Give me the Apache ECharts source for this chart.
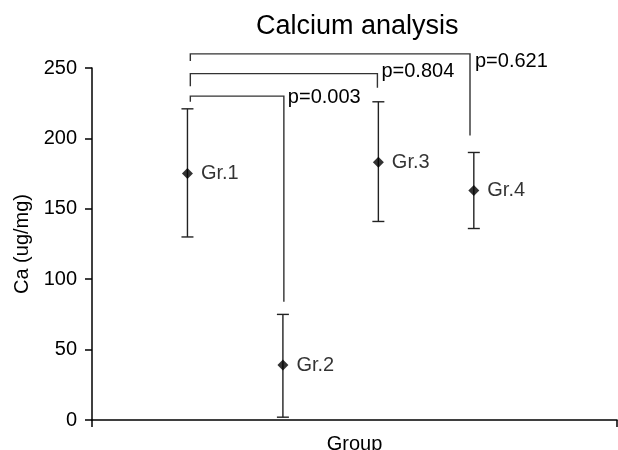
<!DOCTYPE html>
<html>
<head>
<meta charset="utf-8">
<title>Calcium analysis</title>
<script src="https://cdn.jsdelivr.net/npm/echarts@6/dist/echarts.min.js"></script>
<style>
  html, body { margin: 0; padding: 0; background: #fff; }
  #chart-container { width: 618px; height: 450px; }
</style>
</head>
<body>
<div id="chart-container"></div>
<script>
// data
var groups = ['Gr.1', 'Gr.2', 'Gr.3', 'Gr.4'];
var groupPos = [1, 2, 3, 4];
var means = [175, 39, 183, 163];
var upper = [221, 75, 226, 190];
var lower = [130, 2, 141, 136];
var yTicks = [0, 50, 100, 150, 200, 250];

// comparison brackets: x from/to, y of top bar, y where each leg stops
var bracketFrom = [1.03, 1.03, 1.03];
var bracketTo = [2.01, 2.99, 3.96];
var bracketTop = [230, 246, 260];
var bracketLeftEnd = [226, 237, 255];
var bracketRightEnd = [84, 236, 202];
var pLabels = ['p=0.003', 'p=0.804', 'p=0.621'];

var FONT = '"Liberation Sans", Arial, Helvetica, sans-serif';
var INK = '#000';
var labelShift = [[4, 1], [4, -2], [5, 8]];

var dom = document.getElementById('chart-container');
var myChart = echarts.init(dom, null, { renderer: 'canvas' });

var errData = groupPos.map(function (p, i) { return [p, upper[i], lower[i]]; });
var pointData = groupPos.map(function (p, i) { return [p, means[i], groups[i]]; });
var bracketData = pLabels.map(function (t, i) {
  return [bracketFrom[i], bracketTo[i], bracketTop[i], bracketLeftEnd[i], bracketRightEnd[i], i];
});

var option = {
  animation: false,
  backgroundColor: '#fff',
  title: {
    text: 'Calcium analysis',
    left: 256,
    top: 13,
    padding: 0,
    textStyle: { fontFamily: FONT, fontSize: 27, fontWeight: 'normal', color: INK }
  },
  grid: { left: 92, right: 1, top: 68, bottom: 30, containLabel: false, outerBoundsMode: 'none' },
  xAxis: {
    type: 'value',
    min: 0,
    max: 5.5,
    interval: 5.5,
    name: 'Group',
    nameLocation: 'middle',
    nameGap: 14,
    nameTextStyle: { fontFamily: FONT, fontSize: 20, color: INK },
    axisLine: { lineStyle: { color: INK, width: 1.5 } },
    axisTick: { show: true, length: 7, lineStyle: { color: INK, width: 1.5 } },
    axisLabel: { show: false },
    splitLine: { show: false }
  },
  yAxis: {
    type: 'value',
    min: yTicks[0],
    max: yTicks[yTicks.length - 1],
    interval: yTicks[1] - yTicks[0],
    name: 'Ca (ug/mg)',
    nameLocation: 'middle',
    nameGap: 57,
    nameTextStyle: { fontFamily: FONT, fontSize: 20, color: INK },
    axisLine: { show: true, lineStyle: { color: INK, width: 1.5 } },
    axisTick: { show: true, length: 7, lineStyle: { color: INK, width: 1.5 } },
    axisLabel: { margin: 15, fontFamily: FONT, fontSize: 20, color: INK },
    splitLine: { show: false }
  },
  series: [
    {
      name: 'error',
      type: 'custom',
      data: errData,
      renderItem: function (params, api) {
        var x = api.value(0);
        var top = api.coord([x, api.value(1)]);
        var bot = api.coord([x, api.value(2)]);
        var w = 6;
        var st = { stroke: '#222', lineWidth: 1.4 };
        return {
          type: 'group',
          children: [
            { type: 'line', shape: { x1: top[0], y1: top[1], x2: bot[0], y2: bot[1] }, style: st },
            { type: 'line', shape: { x1: top[0] - w, y1: top[1], x2: top[0] + w, y2: top[1] }, style: st },
            { type: 'line', shape: { x1: bot[0] - w, y1: bot[1], x2: bot[0] + w, y2: bot[1] }, style: st }
          ]
        };
      },
      z: 2
    },
    {
      name: 'mean',
      type: 'scatter',
      data: pointData,
      symbol: 'diamond',
      symbolSize: 11,
      itemStyle: { color: '#000' },
      label: {
        show: true,
        position: 'right',
        distance: 8,
        formatter: function (p) { return p.value[2]; },
        fontFamily: FONT,
        fontSize: 20,
        color: INK
      },
      z: 3
    },
    {
      name: 'brackets',
      type: 'custom',
      clip: false,
      data: bracketData,
      renderItem: function (params, api) {
        var a = api.coord([api.value(0), api.value(3)]);
        var b = api.coord([api.value(0), api.value(2)]);
        var c = api.coord([api.value(1), api.value(2)]);
        var d = api.coord([api.value(1), api.value(4)]);
        var i = api.value(5);
        return {
          type: 'group',
          children: [
            {
              type: 'polyline',
              shape: { points: [a, b, c, d] },
              style: { stroke: '#333', lineWidth: 1.4, fill: null }
            },
            {
              type: 'text',
              x: c[0] + labelShift[i][0],
              y: c[1] + labelShift[i][1],
              style: {
                text: pLabels[i],
                font: '20px ' + FONT,
                fill: INK,
                align: 'left',
                verticalAlign: 'middle'
              }
            }
          ]
        };
      },
      z: 1
    }
  ]
};

myChart.setOption(option);
window.addEventListener('resize', myChart.resize);
</script>
</body>
</html>
